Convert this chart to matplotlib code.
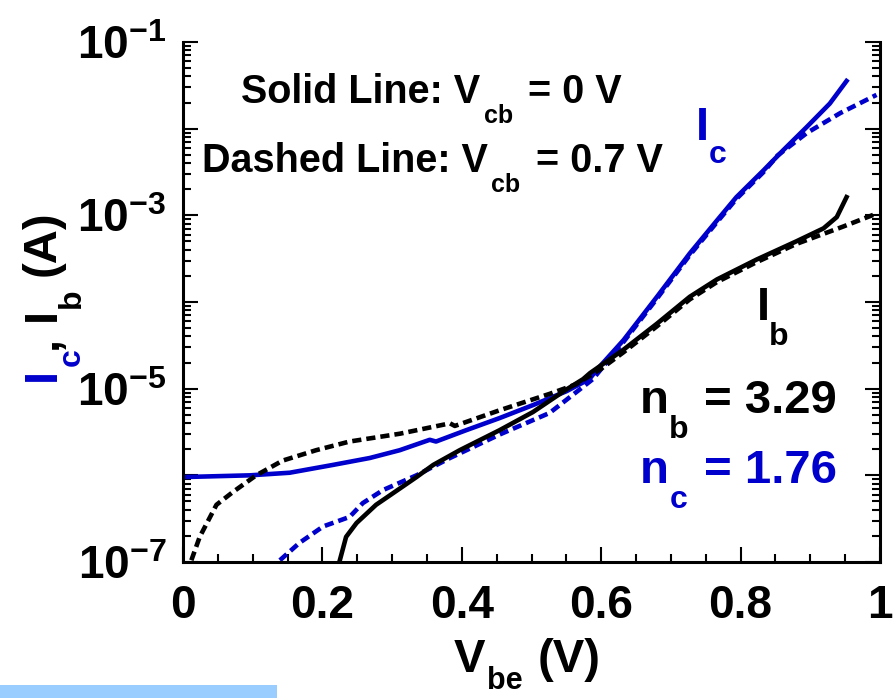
import numpy as np
import matplotlib
matplotlib.use('Agg')
import matplotlib.pyplot as plt
from matplotlib.ticker import FixedLocator, MultipleLocator, LogLocator, FuncFormatter, NullFormatter
from matplotlib.transforms import IdentityTransform
from matplotlib.patches import Rectangle

# Vbe (V) and log10 of current (A)
v_ic_0 = [0.0, 0.096, 0.153, 0.215, 0.268, 0.311, 0.354, 0.363, 0.406, 0.454, 0.502, 0.55,
          0.583, 0.594, 0.632, 0.680, 0.727, 0.766, 0.794, 0.833, 0.861, 0.895, 0.928, 0.952]
lg_ic_0 = [-6.02, -6.00, -5.97, -5.88, -5.80, -5.71, -5.59, -5.61, -5.48, -5.34, -5.19, -5.03,
           -4.89, -4.78, -4.44, -3.94, -3.44, -3.06, -2.79, -2.48, -2.25, -1.98, -1.71, -1.45]

v_ic_07 = [0.139, 0.167, 0.201, 0.239, 0.258, 0.287, 0.335, 0.383, 0.454, 0.526, 0.569,
           0.588, 0.632, 0.680, 0.727, 0.766, 0.794, 0.833, 0.853, 0.895, 0.943, 0.995]
lg_ic_07 = [-6.98, -6.78, -6.59, -6.48, -6.32, -6.17, -6.00, -5.80, -5.53, -5.28, -5.01,
            -4.89, -4.46, -3.96, -3.46, -3.08, -2.81, -2.50, -2.31, -2.05, -1.82, -1.61]

v_ib_0 = [0.225, 0.234, 0.249, 0.277, 0.297, 0.335, 0.359, 0.397, 0.454, 0.502, 0.55,
          0.574, 0.584, 0.632, 0.680, 0.727, 0.766, 0.823, 0.880, 0.919, 0.938, 0.952]
lg_ib_0 = [-6.98, -6.71, -6.55, -6.34, -6.23, -6.02, -5.88, -5.71, -5.48, -5.27, -5.01,
           -4.89, -4.82, -4.55, -4.25, -3.94, -3.74, -3.51, -3.30, -3.15, -3.02, -2.79]

v_ib_07 = [0.012, 0.024, 0.048, 0.072, 0.105, 0.143, 0.191, 0.239, 0.311, 0.383, 0.39,
           0.454, 0.526, 0.564, 0.60, 0.632, 0.680, 0.727, 0.766, 0.823, 0.880, 0.947, 0.995]
lg_ib_07 = [-6.98, -6.71, -6.34, -6.19, -6.00, -5.83, -5.71, -5.61, -5.52, -5.40, -5.43,
            -5.25, -5.06, -4.95, -4.77, -4.58, -4.28, -3.97, -3.77, -3.54, -3.33, -3.13, -2.98]

x_ticks = [0, 0.2, 0.4, 0.6, 0.8, 1]
y_decades = list(range(-7, 0))

plt.rcParams['font.family'] = 'Liberation Sans'
plt.rcParams['font.weight'] = 'bold'
plt.rcParams['mathtext.fontset'] = 'custom'
plt.rcParams['mathtext.rm'] = 'Liberation Sans:bold'
plt.rcParams['mathtext.bf'] = 'Liberation Sans:bold'

BLUE = '#0000cc'
W, H = 893, 698

fig = plt.figure(figsize=(W / 100, H / 100), dpi=100)
ax = fig.add_axes([183 / W, 136 / H, 697 / W, 520 / H])

dash = (2.0, 1.1)
lw = 3.3
ax.plot(v_ic_0, 10 ** np.array(lg_ic_0), color=BLUE, lw=lw)
ax.plot(v_ic_07, 10 ** np.array(lg_ic_07), color=BLUE, lw=lw, dashes=dash)
ax.plot(v_ib_0, 10 ** np.array(lg_ib_0), color='black', lw=lw)
ax.plot(v_ib_07, 10 ** np.array(lg_ib_07), color='black', lw=lw, dashes=dash)

ax.set_yscale('log')
ax.set_xlim(0, 1)
ax.set_ylim(1e-7, 1e-1)

ax.xaxis.set_major_locator(FixedLocator(x_ticks))
ax.xaxis.set_minor_locator(MultipleLocator(0.05))
ax.xaxis.set_major_formatter(FuncFormatter(lambda v, p: '%g' % v))

ax.yaxis.set_major_locator(FixedLocator([10.0 ** e for e in y_decades]))
ax.yaxis.set_minor_locator(LogLocator(base=10, subs=np.arange(2, 10), numticks=30))
ax.yaxis.set_minor_formatter(NullFormatter())


def ylab(v, p):
    e = int(round(np.log10(v)))
    return r'$\mathbf{10^{%d}}$' % e if e % 2 else ''


ax.yaxis.set_major_formatter(FuncFormatter(ylab))

ax.spines['top'].set_visible(False)
for s in ['left', 'right', 'bottom']:
    ax.spines[s].set_linewidth(2.2)

ax.tick_params(which='both', direction='in', right=True, top=False, width=1.5)
ax.tick_params(which='major', length=11)
ax.tick_params(which='minor', length=6)
ax.tick_params(axis='x', which='major', labelsize=33, pad=16)
ax.tick_params(axis='y', which='major', labelsize=33, pad=12)


def put(x, y, s, size, color='black', rot=False):
    # x, y in picture pixels, y measured from the top, at the text baseline
    if rot:
        fig.text(x, H - y, s, fontsize=size, color=color, fontweight='bold',
                 transform=IdentityTransform(), rotation=90, rotation_mode='anchor',
                 ha='left', va='baseline')
    else:
        fig.text(x, H - y, s, fontsize=size, color=color, fontweight='bold',
                 transform=IdentityTransform(), ha='left', va='baseline')


# legend-like notes
put(241, 103, 'Solid Line: V', 28.5)
put(484, 123, 'cb', 18)
put(528, 103, '= 0 V', 28.5)
put(202, 172, 'Dashed Line: V', 28.5)
put(491, 192, 'cb', 18)
put(536, 172, '= 0.7 V', 28.5)

# curve labels
put(696, 140, 'I', 34, BLUE)
put(709, 163, 'c', 23, BLUE)
put(757, 320, 'I', 34)
put(769, 345, 'b', 23)

put(640, 413, 'n', 34)
put(669, 438, 'b', 23)
put(704, 413, '= 3.29', 34)
put(640, 483, 'n', 34, BLUE)
put(670, 508, 'c', 23, BLUE)
put(704, 483, '= 1.76', 34, BLUE)

# axis titles
put(454, 672, 'V', 34)
put(487, 689, 'be', 22)
put(538, 672, '(V)', 34)

put(55, 381, 'I', 34, BLUE, rot=True)
put(80, 366, 'c', 23, BLUE, rot=True)
put(57, 349, ',', 34, rot=True)
put(55, 321, 'I', 34, rot=True)
put(80, 308, 'b', 23, rot=True)
put(55, 276, '(A)', 34, rot=True)

# light blue strip at the bottom left
fig.patches.append(Rectangle((0, 0), 277 / W, 13 / H, transform=fig.transFigure,
                             facecolor='#99ccff', edgecolor='none'))

fig.savefig('out.png', dpi=100)
